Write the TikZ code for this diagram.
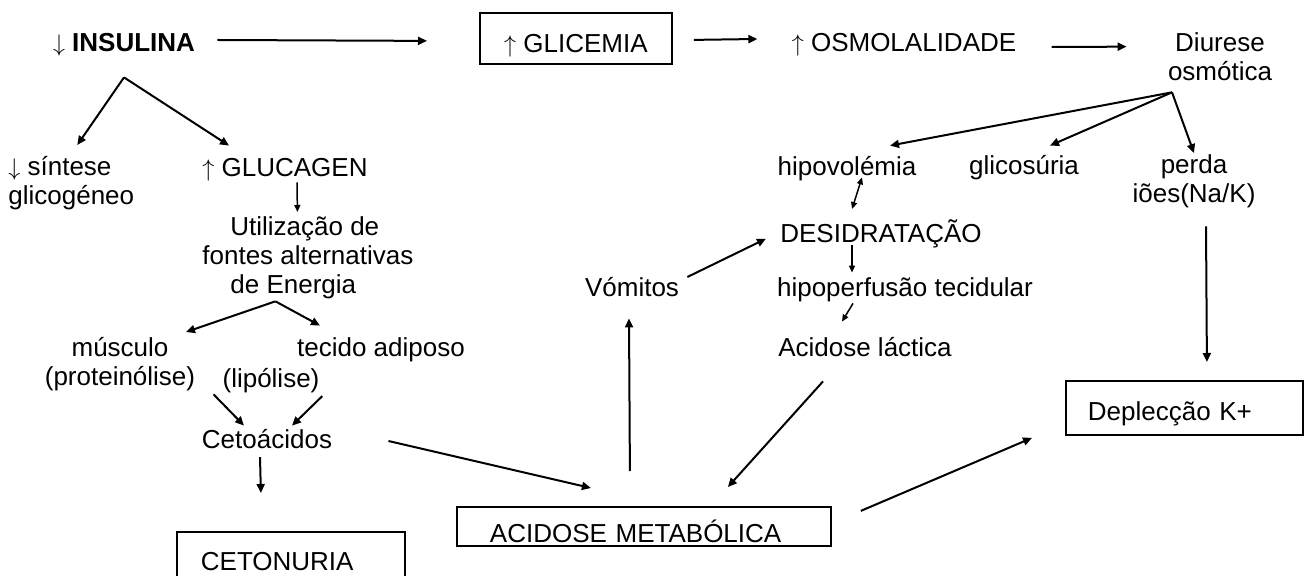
\documentclass[tikz,border=0pt]{standalone}
\usepackage{fontspec}
\setmainfont{Liberation Sans}
\usetikzlibrary{arrows.meta}

\newcommand{\sobe}{$\uparrow$}
\newcommand{\desce}{$\downarrow$}

\tikzset{
  txt/.style={inner sep=0pt, font=\fontsize{13}{14.5}\selectfont,
    execute at begin node=\strut, execute at end node=\strut},
  caixa/.style={draw, line width=0.9pt, inner ysep=0pt, anchor=north west,
    font=\fontsize{13}{14.5}\selectfont},
  seta/.style={line width=1pt, -{Triangle[length=4.5pt,width=4pt]}},
  setap/.style={line width=0.75pt, -{Triangle[length=3.5pt,width=3pt]}},
  setad/.style={line width=0.75pt, {Triangle[length=3.5pt,width=3pt]}-{Triangle[length=3.5pt,width=3pt]}}
}

\begin{document}
\begin{tikzpicture}[x=0.5pt, y=-0.5pt]
    \useasboundingbox (0,0) rectangle (1304,576);

    % linha de cima
    \node[txt, anchor=base] (insulina) at (124,52) {\desce\ \textbf{INSULINA}};
    \node[caixa, minimum width=96pt, text height=20pt, text depth=5.5pt] (glicemia) at (479,12) {\sobe\ GLICEMIA};
    \node[txt, anchor=base] (osmo) at (904,52) {\sobe\ OSMOLALIDADE};
    \node[txt, anchor=north, align=center] (diurese) at (1220,32.7) {Diurese\\osmótica};

    % lado esquerdo
    \node[txt, anchor=north west, align=left] (sintese) at (8,155.7) {\desce\ síntese\\glicogéneo};
    \node[txt, anchor=base] (glucagen) at (285,177) {\sobe\ GLUCAGEN};
    \node[txt, anchor=north west, align=left] (energia) at (202,216.7) {\hspace*{14pt}Utilização de\\fontes alternativas\\\hspace*{14pt}de Energia};
    \node[txt, anchor=north, align=center] (musculo) at (120,336.7) {músculo\\(proteinólise)};
    \node[txt, anchor=base] (adiposo) at (381,357) {tecido adiposo};
    \node[txt, anchor=base] (lipolise) at (271,387) {(lipólise)};
    \node[txt, anchor=base] (ceto) at (267,448) {Cetoácidos};
    \node[caixa, inner xsep=12pt, text width=90pt, align=left, text height=19.5pt, text depth=20pt] (cetonuria) at (176,531) {CETONURIA};

    % centro e direita
    \node[caixa, inner xsep=16.5pt, text width=154pt, align=left, text height=18pt, text depth=1.5pt] (acidose) at (456,506) {ACIDOSE METABÓLICA};
    \node[txt, anchor=base] (hipovol) at (847,176) {hipovolémia};
    \node[txt, anchor=base] (glicos) at (1024,175) {glicosúria};
    \node[txt, anchor=north, align=center] (perda) at (1194,154.7) {perda\\iões(Na/K)};
    \node[txt, anchor=base] (desid) at (881,243) {DESIDRATAÇÃO};
    \node[txt, anchor=base] (hipoperf) at (905,297) {hipoperfusão tecidular};
    \node[txt, anchor=base] (vomitos) at (632,297) {Vómitos};
    \node[txt, anchor=base] (lactica) at (865,357) {Acidose láctica};
    \node[caixa, inner xsep=11pt, text width=96.5pt, align=left, text height=20pt, text depth=7pt] (deplecao) at (1065,380) {Deplecção K+};

    \coordinate (insfan) at ([yshift=-8.15pt]insulina.south);
    \coordinate (dfan) at ([shift={(-24pt,-1.15pt)}]diurese.south);
    \coordinate (efan) at ([shift={(-16.25pt,0.85pt)}]energia.south);

    % setas
    \draw[seta] ([shift={(11pt,3.1pt)}]insulina.east) -- ([shift={(-26pt,-1.25pt)}]glicemia.west);
    \draw[seta] ([shift={(10.5pt,-0.75pt)}]glicemia.east) -- ([shift={(-17pt,3.6pt)}]osmo.west);
    \draw[seta] ([shift={(17.5pt,-0.4pt)}]osmo.east) -- ([shift={(-20.5pt,7.35pt)}]diurese.west);

    \draw[seta] (insfan) -- ([shift={(3pt,5.35pt)}]sintese.north);
    \draw[seta] (insfan) -- ([shift={(-28pt,5.35pt)}]glucagen.north);
    \draw[setap] ([shift={(6pt,1.85pt)}]glucagen.south) -- ([shift={(-5.25pt,2.35pt)}]energia.north);
    \draw[seta] (efan) -- ([shift={(33pt,2.35pt)}]musculo.north);
    \draw[seta] (efan) -- ([shift={(-30.5pt,5.35pt)}]adiposo.north);
    \draw[seta] ([xshift=9pt]musculo.south east) -- ([shift={(-11.5pt,0.85pt)}]ceto.north);
    \draw[seta] ([xshift=1.25pt]lipolise.south east) -- ([shift={(12.5pt,0.85pt)}]ceto.north);
    \draw[seta] ([xshift=-3.5pt]ceto.south) -- ([shift={(-15pt,19pt)}]cetonuria.north);
    \draw[seta] ([shift={(28pt,0.6pt)}]ceto.east) -- ([shift={(-26.5pt,9pt)}]acidose.north);

    \draw[seta] (dfan) -- ([shift={(21.5pt,4.85pt)}]hipovol.north);
    \draw[seta] (dfan) -- ([shift={(13pt,4.35pt)}]glicos.north);
    \draw[seta] (dfan) -- ([yshift=0.8pt]perda.north);
    \draw[setad] ([shift={(7.5pt,3.85pt)}]hipovol.south) -- ([shift={(-14.5pt,5.35pt)}]desid.north);
    \draw[setap] ([shift={(-14.5pt,3.35pt)}]desid.south) -- ([shift={(-26.5pt,1.85pt)}]hipoperf.north);
    \draw[setap] ([shift={(-26pt,1.35pt)}]hipoperf.south) -- ([shift={(-11.5pt,7.35pt)}]lactica.north);
    \draw[seta] ([shift={(-7pt,17.5pt)}]acidose.north) -- ([shift={(-1.5pt,-6.15pt)}]vomitos.south);
    \draw[seta] ([shift={(4pt,7.1pt)}]vomitos.east) -- ([shift={(-7pt,-1.4pt)}]desid.west);
    \draw[seta] ([shift={(-21pt,-7.65pt)}]lactica.south) -- ([shift={(42pt,9.5pt)}]acidose.north);
    \draw[seta] ([shift={(14.5pt,7.75pt)}]acidose.east) -- ([shift={(-16.5pt,-15pt)}]deplecao.west);
    \draw[seta] ([shift={(6pt,-7.15pt)}]perda.south) -- ([shift={(11.25pt,9pt)}]deplecao.north);
\end{tikzpicture}
\end{document}
